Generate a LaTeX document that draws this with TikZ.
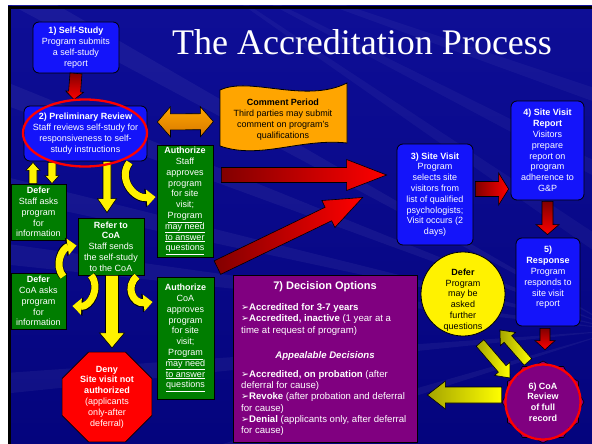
\documentclass[tikz,border=0pt]{standalone}
\usepackage{fontspec}
\setmainfont{Liberation Sans}
\newfontfamily\titlefont{Liberation Serif}
\newfontfamily\dejavu{DejaVu Sans}
\usetikzlibrary{calc,shapes.geometric,arrows.meta}
\definecolor{bgtop}{RGB}{14,14,150}
\definecolor{bgbot}{RGB}{4,4,125}
\definecolor{boxblue}{RGB}{20,20,250}
\definecolor{boxgreen}{RGB}{0,125,0}
\definecolor{boxpurple}{RGB}{128,0,128}
\definecolor{orangeA}{RGB}{255,165,0}
\definecolor{orangeD}{RGB}{215,120,0}
\definecolor{darkred}{RGB}{130,0,0}
\definecolor{olive}{RGB}{165,165,0}
\newcommand\boxfont{\fontsize{9}{10.8}\selectfont}
\newcommand\decfont{\fontsize{9.6}{11.3}\selectfont}
\newcommand\bul{{\dejavu\fontsize{9.5}{9.5}\selectfont\char"27A2}}
% block arrow: [style]{from}{to}{half shaft}{half head}{head length (number, pt)}
\newcommand\blkarrow[6][]{%
  \path[#1] let \p1=(#2), \p2=(#3),
    \n1={atan2(\y2-\y1,\x2-\x1)}, \n2={veclen(\x2-\x1,\y2-\y1)-#6},
    \n3={\n1+90}, \n4={\n1-90} in
    ($(\p1)+(\n3:#4)$) -- ($(\p1)+(\n1:\n2)+(\n3:#4)$) -- ($(\p1)+(\n1:\n2)+(\n3:#5)$) -- (\p2)
    -- ($(\p1)+(\n1:\n2)+(\n4:#5)$) -- ($(\p1)+(\n1:\n2)+(\n4:#4)$) -- ($(\p1)+(\n4:#4)$) -- cycle;}
% double block arrow
\newcommand\dblarrow[6][]{%
  \path[#1] let \p1=(#2), \p2=(#3),
    \n1={atan2(\y2-\y1,\x2-\x1)}, \n2={veclen(\x2-\x1,\y2-\y1)-#6},
    \n3={\n1+90}, \n4={\n1-90} in
    (\p1) -- ($(\p1)+(\n1:#6pt)+(\n3:#5)$) -- ($(\p1)+(\n1:#6pt)+(\n3:#4)$)
    -- ($(\p1)+(\n1:\n2)+(\n3:#4)$) -- ($(\p1)+(\n1:\n2)+(\n3:#5)$) -- (\p2)
    -- ($(\p1)+(\n1:\n2)+(\n4:#5)$) -- ($(\p1)+(\n1:\n2)+(\n4:#4)$)
    -- ($(\p1)+(\n1:#6pt)+(\n4:#4)$) -- ($(\p1)+(\n1:#6pt)+(\n4:#5)$) -- cycle;}
\newcommand\curvarr[1]{\draw[curvbg] #1; \draw[curvfg] #1;}
\tikzset{
  every node/.style={inner sep=0pt},
  bluebox/.style={draw=black, line width=0.8pt, fill=boxblue, rounded corners=6pt, text=white, align=center, font=\boxfont},
  greenbox/.style={draw=black, line width=0.8pt, fill=boxgreen, text=white, align=center, font=\boxfont},
  denyoct/.style={regular polygon, regular polygon sides=8, minimum size=97, draw=black, line width=0.6pt, fill=red, text=white, align=center, font=\boxfont},
  coastar/.style={star, star points=12, star point ratio=1.12, minimum size=82, draw=black, line width=0.6pt, fill=boxpurple, text=white, align=center, font=\boxfont\bfseries},
  decbox/.style={draw=black, line width=0.8pt, fill=boxpurple},
  dectext/.style={text=white, align=left, font=\decfont},
  redh/.style={draw=black, line width=0.6pt, left color=darkred, right color=red},
  redv/.style={draw=black, line width=0.6pt, top color=darkred, bottom color=red},
  yelarr/.style={draw=black, line width=0.6pt, fill=yellow},
  yelshade/.style={draw=black, line width=0.6pt, left color=olive, right color=yellow},
  orarr/.style={draw=black, line width=0.6pt, top color=orangeA, bottom color=orangeD},
  curvbg/.style={draw=black, line width=8.2pt, -{Triangle[width=18pt,length=10.5pt]}},
  curvfg/.style={draw=yellow, line width=7pt, -{Triangle[width=16pt,length=9pt]}},
  ring/.style={draw=red, line width=2.3pt}
}
\begin{document}
\begin{tikzpicture}[x=1pt,y=-1pt]
\useasboundingbox (0,0) rectangle (592,444);
\fill[white] (0,0) rectangle (592,444);
\shade[top color=bgtop, bottom color=bgbot] (8,6) rectangle (592,444);
\begin{scope}
  \clip (8,6) rectangle (592,444);
  \foreach \ang in {150,158,166,172,184,196} {
    \fill[white, opacity=0.05] (620,330) -- ++(\ang:900pt) -- ++(\ang+90:30pt) -- cycle;
  }
  \foreach \ang in {-35,-28,-20} {
    \fill[white, opacity=0.04] (150,-60) -- ++(\ang:900pt) -- ++(\ang+90:25pt) -- cycle;
  }
\end{scope}
\draw[black, line width=3pt] (9.5,444) -- (9.5,7.5) -- (592,7.5);

% title
\node[text=white, font=\titlefont\fontsize{36}{36}\selectfont] (title) at (362,42.5) {The Accreditation Process};

% comment period shape
\draw[black, line width=0.8pt, fill=orangeA] (220,90) .. controls (250,76) and (305,104) .. (347,83)
  -- (347,143) .. controls (300,138) and (260,160) .. (220,146) -- cycle;
\node[text=black, align=center, font=\boxfont] (comment) at (283,119.5)
  {\textbf{Comment Period}\\Third parties may submit\\comment on program's\\qualifications};

% boxes
\node[bluebox, minimum width=86, minimum height=51] (selfstudy) at (76,47.5)
  {\textbf{1) Self-Study}\\Program submits\\a self-study\\report};
\node[bluebox, minimum width=123, minimum height=55] (prelim) at (85.5,133.5)
  {\textbf{2) Preliminary Review}\\Staff reviews self-study for\\responsiveness to self-\\study instructions};
\node[greenbox, minimum width=55, minimum height=56] (deferstaff) at (38.5,212)
  {\textbf{Defer}\\Staff asks\\program\\for\\information};
\node[greenbox, minimum width=56, minimum height=112] (authstaff) at (185,201)
  {\textbf{Authorize}\\Staff\\approves\\program\\for site\\visit;\\\underline{Program}\\\underline{may need}\\\underline{to answer}\\\underline{questions}};
\node[greenbox, minimum width=66, minimum height=57] (refer) at (111,246.5)
  {\textbf{Refer to}\\\textbf{CoA}\\Staff sends\\the self-study\\to the CoA};
\node[greenbox, minimum width=55, minimum height=56] (defercoa) at (38.5,301)
  {\textbf{Defer}\\CoA asks\\program\\for\\information};
\node[greenbox, minimum width=57, minimum height=122] (authcoa) at (185.5,338)
  {\textbf{Authorize}\\CoA\\approves\\program\\for site\\visit;\\\underline{Program}\\\underline{may need}\\\underline{to answer}\\\underline{questions}};
\node[denyoct] (deny) at (107,397)
  {\textbf{Deny}\\\textbf{Site visit not}\\\textbf{authorized}\\(applicants\\only-after\\deferral)};
\node[bluebox, minimum width=76, minimum height=101] (sitevisit) at (435,194.5)
  {\textbf{3) Site Visit}\\Program\\selects site\\visitors from\\list of qualified\\psychologists;\\Visit occurs (2\\days)};
\node[bluebox, minimum width=73, minimum height=99] (report) at (547.5,150.5)
  {\textbf{4) Site Visit}\\\textbf{Report}\\Visitors\\prepare\\report on\\program\\adherence to\\G\&P};
\node[bluebox, minimum width=64, minimum height=88] (response) at (548,282)
  {\textbf{5)}\\\textbf{Response}\\Program\\responds to\\site visit\\report\\\mbox{}};
\node[coastar] (coa) at (543,402) {6) CoA\\Review\\of full\\record};
\node[circle, minimum size=84, draw=black, line width=0.8pt, fill=yellow] (defercirc) at (463,294) {};
\node[text=black, align=center, font=\boxfont] (defertext) at (463,300)
  {\textbf{Defer}\\Program\\may be\\asked\\further\\questions};

% decision options
\node[decbox, minimum width=184, minimum height=167] (decision) at (325,358.5) {};
\node[text=white, font=\bfseries\fontsize{11}{13}\selectfont] (dectitle) at (325,287) {7) Decision Options};
\node[dectext, anchor=north west] (declist1) at (241,303.5)
  {\bul\textbf{Accredited for 3-7 years}\\\bul\textbf{Accredited, inactive} (1 year at a\\time at request of program)};
\node[text=white, font=\decfont\bfseries\itshape] (appeal) at (325,356) {Appealable Decisions};
\node[dectext, anchor=north west] (declist2) at (241,370)
  {\bul\textbf{Accredited, on probation} (after\\deferral for cause)\\\bul\textbf{Revoke} (after probation and deferral\\for cause)\\\bul\textbf{Denial} (applicants only, after deferral\\for cause)};

% red block arrows
\blkarrow[redv]{selfstudy.south}{$(selfstudy.south |- prelim.north)+(-2,-6)$}{6pt}{9pt}{8}
\blkarrow[redh]{$(authstaff.east)+(8,-26)$}{$(sitevisit.west)+(-10,-19.5)$}{7.5pt}{15.5pt}{40}
\blkarrow[redh]{$(authcoa.north east)+(3,-9)$}{$(sitevisit.west)+(-34,3)$}{7.5pt}{15pt}{38}
\blkarrow[redh]{$(sitevisit.east)+(2,-5.5)$}{$(report.west)+(-2,38.5)$}{7.5pt}{16pt}{10}
\blkarrow[redv]{$(report.south)+(0,1)$}{$(report.south |- response.north)+(0,-3)$}{5.5pt}{11.5pt}{10}
\blkarrow[redv]{$(response.south)+(-3,2)$}{$(coa.north)+(2,-11)$}{5pt}{10pt}{9}

% orange double arrow
\dblarrow[orarr]{$(prelim.east)+(10,-11.5)$}{$(authstaff.north east)+(0,-23)$}{8pt}{15pt}{13}

% yellow straight arrows
\blkarrow[yelarr]{$(deferstaff.north)+(-5.5,0)$}{$(deferstaff.north |- prelim.south)+(-5.5,1)$}{4pt}{7pt}{8}
\blkarrow[yelarr]{$(deferstaff.north |- prelim.south)+(13.5,1)$}{$(deferstaff.north)+(13.5,0)$}{4pt}{7pt}{8}
\blkarrow[yelarr]{$(refer.north |- prelim.south)+(-4,0)$}{$(refer.north)+(-4,-5)$}{4pt}{9.5pt}{14}
\blkarrow[yelarr]{$(refer.south)+(1,0)$}{$(refer.south |- deny.north)+(1,-4)$}{6.5pt}{12.5pt}{15}
\blkarrow[yelshade]{$(coa.center)+(-63,-59)$}{$(coa.center)+(-33,-24)$}{5pt}{10pt}{12}
\blkarrow[yelshade]{$(coa.center)+(-15,-40)$}{$(coa.center)+(-43,-72)$}{5pt}{10pt}{12}
\blkarrow[yelshade]{$(coa.west)+(0,-7)$}{$(decision.east)+(10,36.5)$}{8pt}{14pt}{18}

% curved yellow arrows
\curvarr{($(prelim.south)+(44,1)$) .. controls +(-12,16) and +(-22,2) .. ($(authstaff.west)+(-1,-4)$)}
\curvarr{($(defercoa.north east)+(-3,4)$) .. controls +(-10,-12) and +(-14,2) .. ($(refer.west)+(-1,-1)$)}
\curvarr{($(refer.south)+(-20,0)$) .. controls +(10,12) and +(18,1) .. ($(defercoa.east)+(6,5)$)}
\curvarr{($(refer.south)+(26,1)$) .. controls +(-12,10) and +(-20,2) .. ($(authcoa.west)+(-4,-36)$)}

% red highlight rings
\draw[ring] ($(prelim.center)+(-0.5,-0.5)$) ellipse [x radius=62pt, y radius=33.5pt];
\draw[ring] (coa.center) circle [radius=37.5pt];
\end{tikzpicture}
\end{document}
